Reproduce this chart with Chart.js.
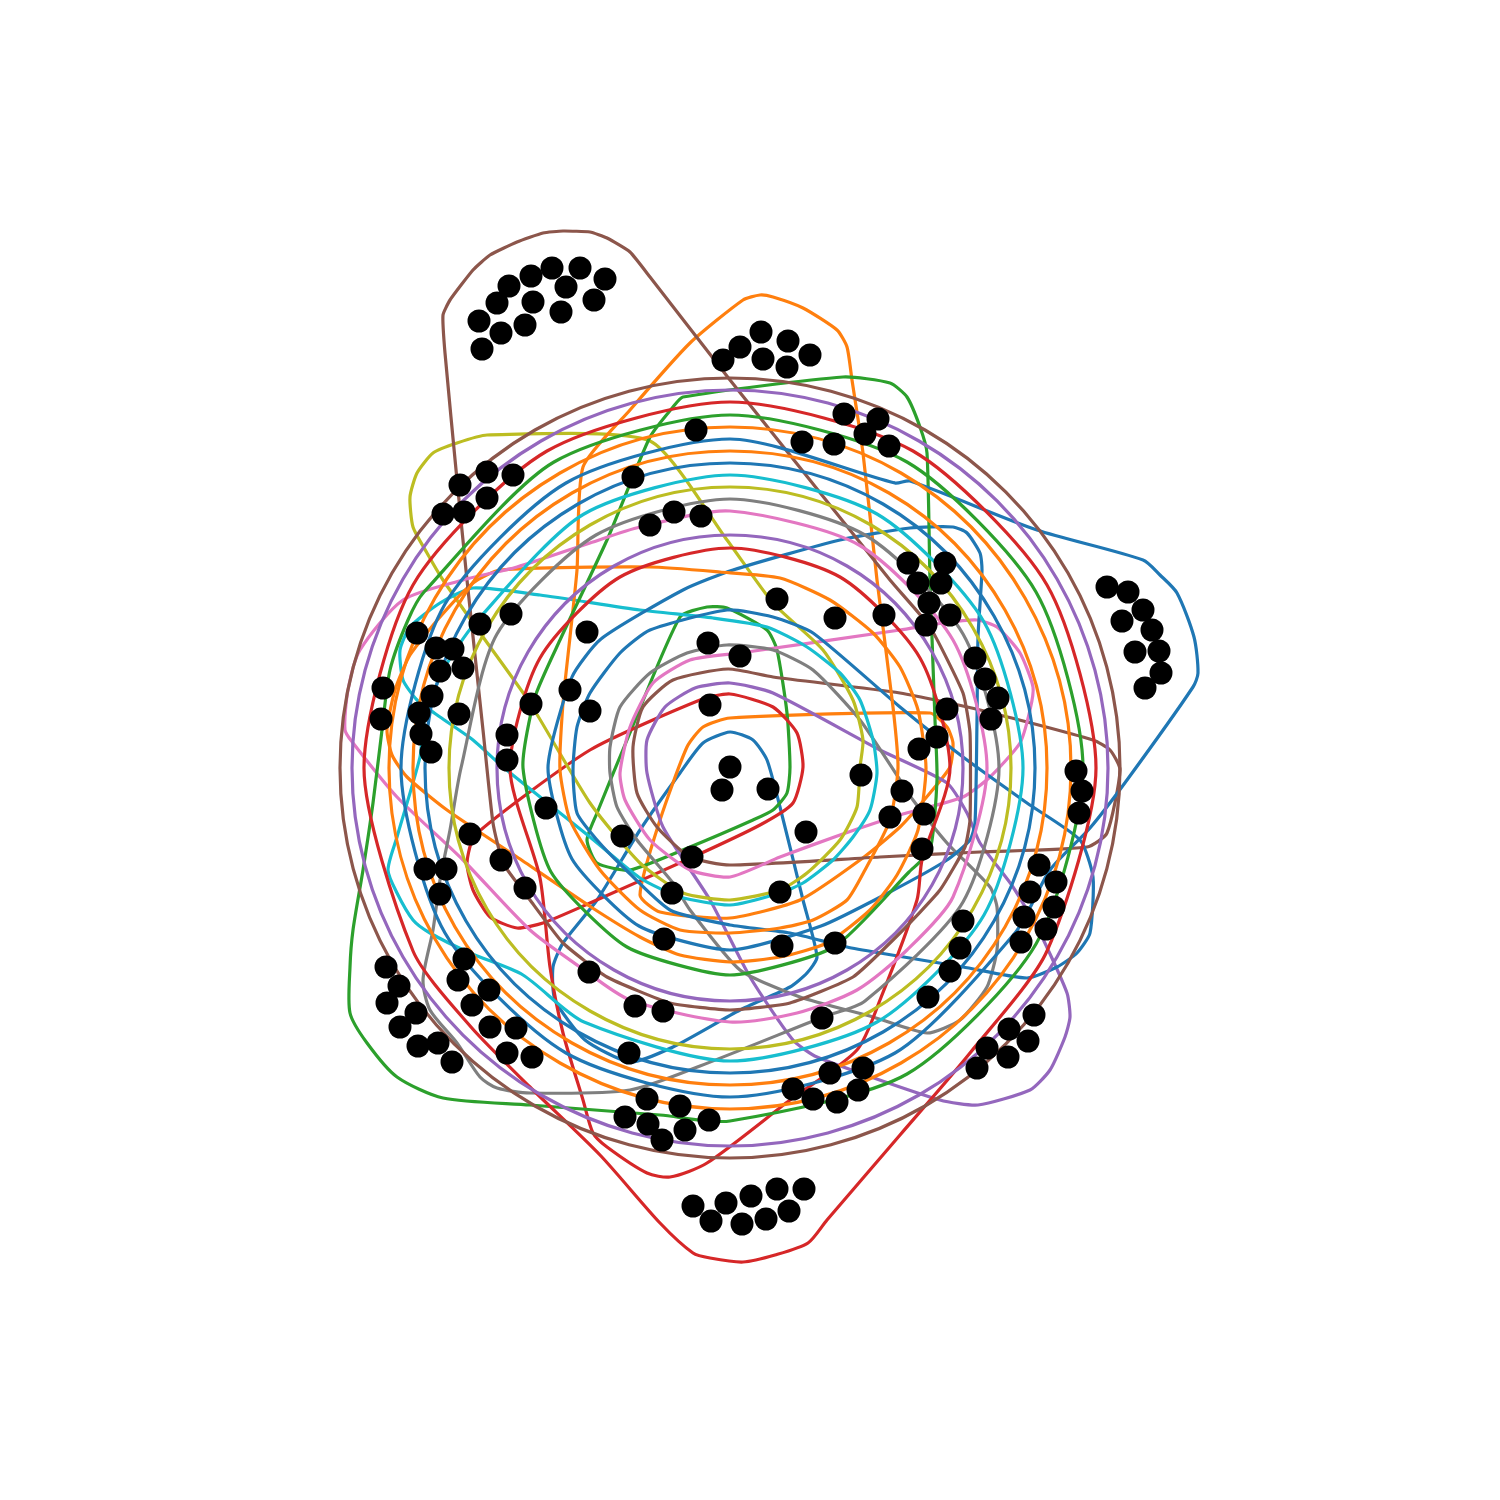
<!DOCTYPE html>
<html><head><meta charset="utf-8">
<script src="https://cdn.jsdelivr.net/npm/chart.js@4/dist/chart.umd.min.js"></script>
<style>html,body{margin:0;padding:0;background:#fff}#wrap{width:1500px;height:1500px;position:relative}</style>
</head><body><div id="wrap"><canvas id="c"></canvas></div>
<script>
// ---- data (x, y in plot units; y axis runs downward) ----
const dots = [
[479,321],[497,303],[509,286],[531,276],[552,268],[580,268],[605,279],[566,287],[533,302],[501,333],[525,325],[561,312],[594,300],[482,349],
[460,485],[487,472],[513,475],[487,498],[443,514],[464,512],
[633,477],[650,525],[674,512],[701,516],[696,430],
[723,360],[740,347],[761,332],[788,341],[810,355],[763,359],[787,367],
[844,414],[878,419],[865,434],[889,446],[802,442],[834,444],
[908,563],[945,563],[918,583],[941,583],[929,603],[926,625],[950,615],[975,658],[985,679],[998,698],[991,719],[947,709],[937,737],[919,749],
[1107,587],[1128,592],[1143,610],[1122,621],[1152,630],[1159,651],[1135,652],[1161,673],[1145,688],
[777,599],[835,618],[884,615],[587,632],[708,643],[740,656],[570,690],[590,711],[710,705],[730,767],[722,790],[768,789],[861,775],[902,791],[890,817],[924,814],[922,849],[806,832],[692,857],[622,836],[546,808],[672,893],[780,892],
[480,624],[511,614],[417,633],[436,648],[453,649],[440,671],[463,668],[383,688],[432,696],[381,719],[419,713],[459,714],[421,734],[431,752],[531,704],[507,735],[507,760],[470,834],[425,869],[446,869],[440,894],[501,860],[525,888],
[1076,771],[1082,791],[1079,813],[1039,865],[1056,882],[1030,892],[1054,907],[1024,917],[1046,929],[1021,942],[963,921],[960,948],[950,971],[928,997],
[1034,1015],[1009,1029],[1028,1041],[987,1048],[1008,1057],[977,1068],
[664,939],[782,946],[835,943],[822,1018],[663,1011],[635,1006],[589,972],[629,1053],[647,1099],[680,1106],[709,1120],[685,1130],[625,1117],[648,1124],[662,1140],[793,1089],[813,1099],[837,1102],[830,1073],[863,1068],[858,1090],
[693,1206],[711,1221],[726,1203],[742,1224],[751,1196],[766,1219],[777,1189],[789,1211],[804,1189],
[386,967],[399,986],[387,1003],[416,1013],[400,1027],[418,1046],[438,1043],[452,1062],[464,959],[458,980],[489,990],[472,1005],[490,1027],[516,1028],[507,1053],[532,1057]
];

const ringBrown390 = [[1120,768],[1068,573],[925,430],[730,378],[535,430],[392,573],[340,768],[392,963],[535,1106],[730,1158],[925,1106],[1068,963]];
const ringPurple378 = [[1108,768],[1057,579],[919,441],[730,390],[541,441],[403,579],[352,768],[403,957],[541,1095],[730,1146],[919,1095],[1057,957]];
const ringRed366 = [[1096,768],[1047,585],[913,451],[730,402],[547,451],[413,585],[364,768],[413,951],[471,1027],[530,1087],[600,1155],[660,1223],[693,1253],[710,1258],[743,1262],[775,1255],[808,1243],[827,1220],[900,1135],[970,1053],[1047,951]];
const ringGreen353 = [[1083,768],[1036,592],[907,462],[730,415],[554,462],[424,592],[408,620],[390,670],[382,730],[373,803],[363,870],[353,930],[350,967],[350,1013],[367,1043],[397,1077],[443,1098],[530,1105],[660,1115],[730,1121],[907,1074],[1036,944]];
const ringOrange341 = [[1071,768],[1025,598],[901,473],[730,427],[560,473],[435,598],[389,768],[435,939],[560,1063],[730,1109],[901,1063],[1025,939]];
const ringBlue329 = [[895,483],[730,439],[566,483],[445,604],[401,768],[445,933],[566,1053],[730,1097],[895,1053],[1015,933],[1050,870],[1090,828],[1127,780],[1193,687],[1198,673],[1194,637],[1177,593],[1160,575],[1143,560],[1037,530],[910,481]];
const ringOrange317 = [[1047,768],[1005,610],[889,493],[730,451],[572,493],[455,610],[413,768],[455,927],[572,1043],[730,1085],[889,1043],[1005,927]];
const ringBlue305 = [[1035,768],[994,616],[883,504],[730,463],[578,504],[466,616],[425,768],[466,921],[578,1032],[730,1073],[883,1032],[994,921]];
const ringCyan293 = [[1023,768],[984,622],[877,514],[730,475],[584,514],[476,622],[443,670],[430,703],[423,727],[420,757],[397,837],[388,870],[397,893],[413,920],[430,933],[470,953],[523,975],[584,1022],[730,1061],[877,1022],[984,915]];
const ringOlive281 = [[1011,768],[973,628],[871,525],[730,487],[590,525],[487,628],[449,768],[487,909],[590,1011],[730,1049],[871,1011],[973,909]];
const ringGray269 = [[999,768],[963,634],[865,535],[730,499],[596,535],[497,634],[461,768],[450,830],[440,880],[433,930],[423,980],[430,1010],[457,1043],[480,1077],[497,1088],[530,1093],[630,1090],[700,1066],[823,1017],[865,1001],[963,902]];
const ringPink257 = [[987,768],[953,640],[859,545],[730,511],[640,527],[590,543],[517,567],[463,580],[403,600],[360,650],[348,690],[345,730],[353,743],[397,797],[463,860],[530,930],[580,967],[630,1000],[730,1022],[797,1013],[857,990],[907,950],[953,897]];
const hullBrownTop = [[443,315],[450,300],[473,270],[490,255],[517,242],[543,233],[563,231],[590,232],[607,238],[630,252],[650,277],[730,380],[890,580],[930,627],[963,693],[970,733],[970,820],[965,847],[940,890],[900,933],[853,977],[790,1003],[730,1010],[670,1003],[607,977],[563,943],[530,900],[503,863],[493,823],[483,730],[467,580],[457,480],[445,353]];
const ringPurple233 = [[963,768],[932,652],[847,566],[730,535],[614,566],[528,652],[497,768],[528,885],[614,970],[730,1001],[847,970],[932,885]];
const ringRed220 = [[950,768],[920,658],[840,577],[730,548],[620,577],[540,658],[510,768],[540,878],[550,967],[563,1033],[583,1100],[593,1133],[607,1147],[647,1173],[670,1177],[707,1163],[790,1100],[857,1050],[880,1000],[917,900],[922,860]];
const ringGreen207 = [[909,872],[834,947],[730,975],[627,947],[551,872],[523,768],[535,697],[560,640],[607,540],[650,437],[673,407],[683,397],[843,377],[890,383],[907,397],[920,427],[927,453],[930,580],[935,720],[937,780],[930,850]];
const hullOrangeLeft = [[500,570],[650,567],[720,572],[780,578],[830,600],[873,633],[900,667],[918,710],[926,768],[918,830],[897,875],[870,910],[827,943],[780,957],[730,962],[680,955],[640,937],[591,907],[517,857],[447,810],[407,777],[392,755],[387,730],[395,690],[410,655],[440,617],[473,583]];
const hullBlueRight = [[601,639],[683,590],[733,570],[840,540],[910,528],[953,527],[967,533],[980,553],[982,570],[978,637],[977,720],[975,823],[970,840],[947,860],[888,893],[821,926],[730,950],[639,926],[572,859],[548,768],[572,677]];
const hullOrangeTop = [[583,467],[630,410],[690,343],[743,300],[760,295],[773,297],[803,308],[837,330],[847,347],[852,380],[863,453],[877,580],[893,707],[898,768],[890,820],[865,870],[847,900],[813,920],[780,928],[730,933],[680,930],[640,910],[600,870],[570,820],[560,770],[563,703],[570,637],[577,570]];
const hullBlueInner = [[650,630],[727,610],[773,617],[813,633],[900,707],[963,757],[1027,803],[1080,840],[1093,877],[1090,933],[1077,953],[1057,967],[1027,978],[963,967],[880,953],[847,947],[790,933],[730,925],[670,910],[623,867],[597,840],[577,813],[573,770],[577,727],[590,693],[620,653]];
const hullCyanInner = [[440,603],[473,588],[540,595],[640,610],[713,618],[767,627],[807,647],[840,673],[860,700],[873,740],[877,773],[870,810],[853,837],[833,860],[803,883],[780,893],[730,905],[680,897],[640,878],[590,837],[503,767],[473,740],[440,717],[417,700],[403,680],[400,650],[410,627]];
const hullOlive = [[650,441],[727,540],[773,603],[823,650],[853,700],[863,740],[860,767],[857,807],[840,840],[807,873],[780,890],[730,900],[683,893],[640,863],[590,803],[530,703],[483,637],[443,580],[427,553],[413,527],[410,497],[417,473],[433,453],[457,443],[487,435]];
const hullGrayInner = [[727,645],[773,650],[813,670],[860,720],[900,780],[913,800],[947,843],[990,887],[997,907],[997,950],[987,987],[960,1020],[927,1033],[873,1017],[800,997],[740,970],[690,910],[673,883],[637,840],[617,807],[610,773],[610,747],[620,707],[650,673],[687,653]];
const hullPinkInner = [[740,653],[900,630],[943,623],[977,620],[997,627],[1020,653],[1033,687],[1030,710],[1020,743],[990,777],[963,797],[900,815],[840,835],[780,857],[730,877],[690,870],[650,840],[625,800],[620,773],[630,727],[653,683],[690,660]];
const hullBrownInner = [[728,669],[773,677],[900,693],[980,710],[1093,740],[1110,750],[1120,770],[1107,833],[1087,847],[980,852],[880,857],[730,865],[690,857],[657,827],[637,793],[633,747],[643,707],[673,680]];
const hullPurpleInner = [[730,683],[773,693],[880,750],[947,783],[967,813],[980,843],[1013,887],[1040,933],[1067,993],[1070,1017],[1065,1037],[1050,1070],[1030,1090],[978,1105],[940,1100],[817,1057],[793,1040],[750,977],[710,900],[663,827],[647,773],[647,740],[665,707],[695,688]];
const hullRedInner = [[730,694],[773,707],[797,733],[803,767],[793,803],[760,825],[693,857],[590,903],[543,923],[517,928],[490,917],[473,890],[467,863],[475,835],[590,750],[700,700]];
const hullGreenInner = [[680,617],[707,607],[727,608],[767,630],[777,650],[787,713],[790,767],[787,793],[773,810],[753,820],[690,847],[630,870],[597,863],[587,840],[597,813],[627,740]];
const hullOrangeInner = [[703,727],[730,718],[930,713],[947,727],[953,743],[950,767],[930,793],[900,827],[860,860],[800,900],[730,918],[660,912],[640,895],[660,820],[687,747]];
const hullBlueInnerMost = [[703,743],[730,732],[753,740],[767,760],[780,807],[803,900],[817,957],[807,973],[790,987],[740,1010],[673,1047],[630,1062],[585,1040],[555,1000],[553,967],[563,943],[597,900],[640,830],[680,773]];

const palette = {blue:'#1f77b4', orange:'#ff7f0e', green:'#2ca02c', red:'#d62728', purple:'#9467bd',
  brown:'#8c564b', pink:'#e377c2', gray:'#7f7f7f', olive:'#bcbd22', cyan:'#17becf'};

const curves = [
  [ringBrown390,'brown',0.35],[ringPurple378,'purple',0.35],[ringRed366,'red',0.25],[ringGreen353,'green',0.25],
  [ringOrange341,'orange',0.35],[ringBlue329,'blue',0.25],[ringOrange317,'orange',0.35],[ringBlue305,'blue',0.35],
  [ringCyan293,'cyan',0.25],[ringOlive281,'olive',0.35],[ringGray269,'gray',0.25],[ringPink257,'pink',0.25],
  [hullBrownTop,'brown',0.15],[ringPurple233,'purple',0.35],[ringRed220,'red',0.25],[ringGreen207,'green',0.2],
  [hullOrangeLeft,'orange',0.2],[hullBlueRight,'blue',0.2],[hullOrangeTop,'orange',0.2],[hullBlueInner,'blue',0.2],
  [hullCyanInner,'cyan',0.2],[hullOlive,'olive',0.2],[hullGrayInner,'gray',0.2],[hullPinkInner,'pink',0.2],
  [hullBrownInner,'brown',0.2],[hullPurpleInner,'purple',0.2],[hullRedInner,'red',0.2],[hullGreenInner,'green',0.2],
  [hullOrangeInner,'orange',0.2],[hullBlueInnerMost,'blue',0.2]
];

const toXY = p => ({x:p[0], y:p[1]});
const lineSets = curves.map(([v,col,t]) => {
  const n = v.length;
  const pts = [v[n-1], ...v, v[0], v[1]].map(toXY);
  const c = palette[col];
  return {
    data: pts, showLine: true, borderColor: c, borderWidth: 3.2, pointRadius: 0, pointHoverRadius: 0,
    tension: t, fill: false, order: 1, borderCapStyle: 'round', borderJoinStyle: 'round', clip: false,
    segment: { borderColor: ctx => (ctx.p0DataIndex === 0 || ctx.p1DataIndex === n + 2) ? 'rgba(0,0,0,0)' : c }
  };
});

const dotSet = {
  data: dots.map(toXY), showLine: false, pointRadius: 11.5, pointHoverRadius: 11.5,
  pointBackgroundColor: '#000', pointBorderWidth: 0, order: 0, clip: false
};

new Chart(document.getElementById('c'), {
  type: 'scatter',
  data: { datasets: [dotSet, ...lineSets] },
  options: {
    responsive: true, maintainAspectRatio: false, animation: false, events: [],
    layout: { padding: 0, autoPadding: false },
    plugins: { legend: { display: false }, tooltip: { enabled: false } },
    scales: {
      x: { type: 'linear', min: 0, max: 1500, display: false },
      y: { type: 'linear', min: 0, max: 1500, reverse: true, display: false }
    }
  }
});
</script></body></html>
